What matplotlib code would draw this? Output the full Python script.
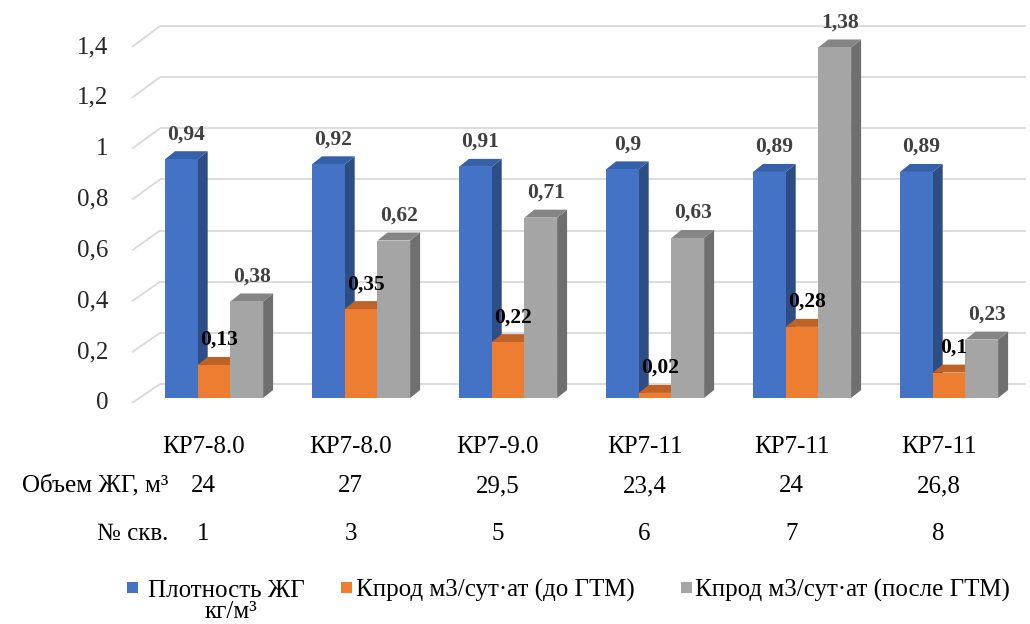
import matplotlib
matplotlib.use("Agg")
import matplotlib.pyplot as plt
from matplotlib.patches import Polygon, Rectangle

plt.rcParams['font.family'] = ['Liberation Serif', 'DejaVu Serif']

# ---------------- data ----------------
categories = ["КР7-8.0", "КР7-8.0", "КР7-9.0", "КР7-11", "КР7-11", "КР7-11"]
volume_labels = ["24", "27", "29,5", "23,4", "24", "26,8"]
well_labels = ["1", "3", "5", "6", "7", "8"]
density = [0.94, 0.92, 0.91, 0.90, 0.89, 0.89]
kprod_before = [0.13, 0.35, 0.22, 0.02, 0.28, 0.10]
kprod_after = [0.38, 0.62, 0.71, 0.63, 1.38, 0.23]
series_names = ["Плотность ЖГ\nкг/м³", "Кпрод м3/сут·ат (до ГТМ)", "Кпрод м3/сут·ат (после ГТМ)"]
yticks = [0, 0.2, 0.4, 0.6, 0.8, 1.0, 1.2, 1.4]
ytick_labels = ["0", "0,2", "0,4", "0,6", "0,8", "1", "1,2", "1,4"]

# ---------------- styles ----------------
front_cols = ["#4472C4", "#ED7D31", "#A5A5A5"]
side_cols = ["#2E4D85", "#A9581F", "#6F6F6F"]
top_cols = ["#3560AA", "#BE6227", "#858585"]
label_cols = ["#404040", "#000000", "#404040"]

W, H = 1030, 624
fig = plt.figure(figsize=(W / 100, H / 100), dpi=100)
ax = fig.add_axes([0, 0, 1, 1])
ax.set_axis_off()

# pixel geometry
X0 = 130.0      # left px of first category slot
SLOT = 147.0    # px per category
Y0 = 398.0      # px (from top) of value 0 for bars
SC = 254.0      # px per unit value

ax.set_xlim((0 - X0) / SLOT, (W - X0) / SLOT)
ax.set_ylim((Y0 - H) / SC, Y0 / SC)

def px_x(p):
    return (p - X0) / SLOT

def px_y(p):
    return (Y0 - p) / SC

# ---------------- gridlines (3D wall) ----------------
grid_c = "#D9D9D9"
for v, lab in zip(yticks, ytick_labels):
    yf = px_y(403 - 254.3 * v)
    yb = px_y(384 - 255.7 * v)
    ax.plot([px_x(132), px_x(160)], [yf, yb], color=grid_c, lw=1.3, zorder=1,
            solid_capstyle='butt')
    ax.plot([px_x(160), px_x(1026)], [yb, yb], color=grid_c, lw=1.3, zorder=1,
            solid_capstyle='butt')
    ax.text(px_x(108), yf, lab, ha='right', va='center', fontsize=18, color='#262626')

# ---------------- 3D bars ----------------
bw = 32.7 / SLOT
off0 = 35.0 / SLOT
ddx = 10.0 / SLOT
ddy = 8.0 / SC
series = [density, kprod_before, kprod_after]
for j, vals in enumerate(series):
    xs = [i + off0 + j * bw for i in range(len(categories))]
    z = 3 + j
    ax.bar(xs, vals, width=bw, align='edge', color=front_cols[j], zorder=z + 0.2,
           linewidth=0)
    for x, v in zip(xs, vals):
        side = Polygon([(x + bw, 0), (x + bw, v), (x + bw + ddx, v + ddy), (x + bw + ddx, ddy)],
                       closed=True, facecolor=side_cols[j], edgecolor='none', zorder=z)
        top = Polygon([(x, v), (x + bw, v), (x + bw + ddx, v + ddy), (x + ddx, v + ddy)],
                      closed=True, facecolor=top_cols[j], edgecolor='none', zorder=z + 0.1)
        ax.add_patch(side)
        ax.add_patch(top)
        lab = ("%g" % v).replace(".", ",")
        ax.text(x + (bw + ddx) / 2, v + ddy + 7 / SC, lab, ha='center', va='bottom',
                fontsize=15.5, fontweight='bold', color=label_cols[j], zorder=10)

# ---------------- category rows ----------------
for i in range(len(categories)):
    cx = i + 0.5
    ax.text(cx, px_y(453), categories[i], ha='center', va='baseline', fontsize=18)
    ax.text(cx, px_y(492), volume_labels[i], ha='center', va='baseline', fontsize=18)
    ax.text(cx, px_y(540), well_labels[i], ha='center', va='baseline', fontsize=18)
ax.text(px_x(168), px_y(492), "Объем ЖГ, м³", ha='right', va='baseline', fontsize=18)
ax.text(px_x(168), px_y(540), "№ скв.", ha='right', va='baseline', fontsize=18)

# ---------------- legend ----------------
mk = [127, 341, 681]
for j in range(3):
    fig.patches.append(Rectangle((mk[j] / W, 1 - 593 / H), 11 / W, 11 / H,
                                 transform=fig.transFigure, facecolor=front_cols[j],
                                 edgecolor='none'))
fig.text(226 / W, 1 - 597 / H, "Плотность ЖГ", ha='center', va='baseline', fontsize=18)
fig.text(231 / W, 1 - 618 / H, "кг/м³", ha='center', va='baseline', fontsize=18)
fig.text(356 / W, 1 - 597 / H, series_names[1], ha='left', va='baseline', fontsize=18)
fig.text(695 / W, 1 - 597 / H, series_names[2], ha='left', va='baseline', fontsize=18)

fig.savefig("out.png", dpi=100, facecolor='white')
